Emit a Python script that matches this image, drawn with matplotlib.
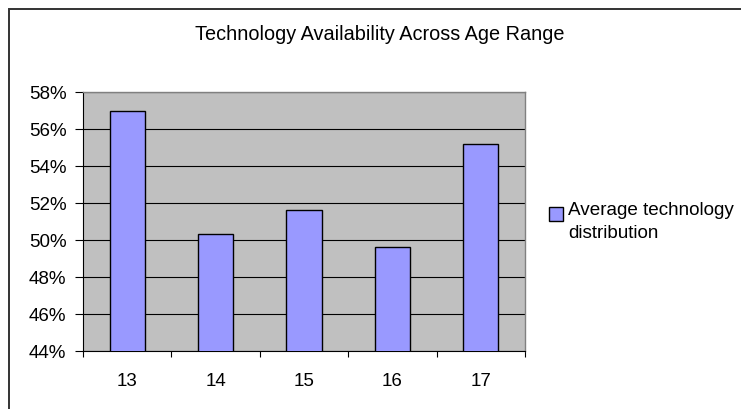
import numpy as np
import matplotlib.pyplot as plt
from matplotlib.patches import Rectangle
from matplotlib.ticker import FuncFormatter

plt.rcParams['font.family'] = ['Liberation Sans', 'DejaVu Sans']

ages = ["13", "14", "15", "16", "17"]
avg_tech = [57.0, 50.3, 51.6, 49.6, 55.2]
y_ticks = [44, 46, 48, 50, 52, 54, 56, 58]

W, H = 741, 410
fig = plt.figure(figsize=(W / 100, H / 100), dpi=100)

# outer chart frame (runs off the right and bottom edges)
fig.patches.append(Rectangle((8.5 / W, -0.05), 1.0, 1 - 10 / H + 0.05,
                             transform=fig.transFigure, fill=False,
                             edgecolor='#333333', linewidth=1.4))

ax = fig.add_axes([83 / W, 1 - 352 / H, 442 / W, 259 / H])
ax.set_facecolor('#C0C0C0')

x = np.arange(len(ages))
ax.bar(x, avg_tech, width=0.4, color='#9999FF', edgecolor='black',
       linewidth=1.0, zorder=3)

ax.set_ylim(44, 58)
ax.set_xlim(-0.5, len(ages) - 0.5)
ax.set_yticks(y_ticks)
ax.yaxis.set_major_formatter(FuncFormatter(lambda v, p: f"{v:.0f}%"))
ax.yaxis.grid(True, color='black', linewidth=0.8, zorder=1)

# category labels centred, ticks on the boundaries
ax.set_xticks(x)
ax.set_xticklabels(ages)
ax.set_xticks(np.arange(-0.5, len(ages), 1.0), minor=True)
ax.tick_params(axis='x', which='major', length=0, pad=15, labelsize=13.5)
ax.tick_params(axis='x', which='minor', length=4, direction='out',
               color='black', width=0.8)
ax.tick_params(axis='y', length=6, direction='out', labelsize=13.5,
               color='black', width=0.8, pad=6)

for side in ['top', 'right']:
    ax.spines[side].set_color('#808080')
    ax.spines[side].set_linewidth(1.0)
for side in ['left', 'bottom']:
    ax.spines[side].set_color('black')
    ax.spines[side].set_linewidth(0.8)

fig.text(380 / W, 1 - 35 / H, "Technology Availability Across Age Range",
         ha='center', va='center', fontsize=14.3)

# legend: swatch plus two-line label
fig.patches.append(Rectangle((549 / W, 1 - 222 / H), 14 / W, 14 / H,
                             transform=fig.transFigure, facecolor='#9999FF',
                             edgecolor='black', linewidth=1.0))
fig.text(568 / W, 1 - 202 / H, "Average technology\ndistribution",
         ha='left', va='top', fontsize=13.6, linespacing=1.45)

fig.savefig('out.png', dpi=100)
